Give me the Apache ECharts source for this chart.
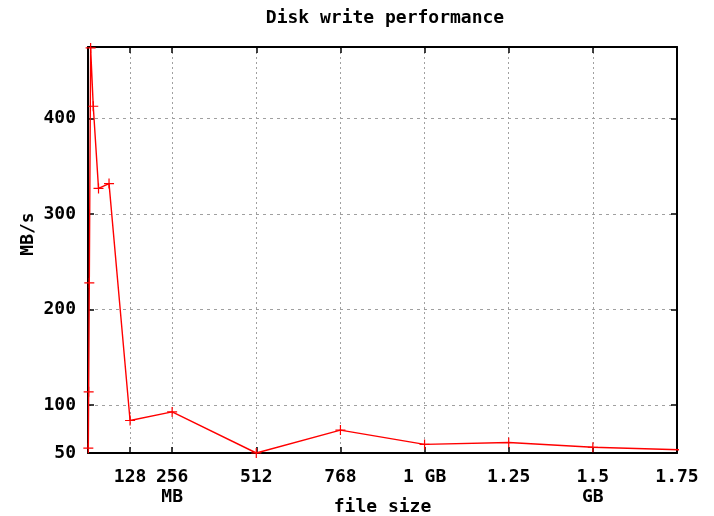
<!DOCTYPE html>
<html>
<head>
<meta charset="utf-8">
<script src="https://cdn.jsdelivr.net/npm/echarts@6/dist/echarts.min.js"></script>
<style>html,body{margin:0;padding:0;background:#fff}#c{width:714px;height:516px}</style>
</head>
<body>
<div id="c"></div>
<script>
// Data
const fileSizesMB = [1, 2, 4, 8, 16, 32, 64, 128, 256, 512, 768, 1024, 1280, 1536, 2048];
const writeMBps   = [55, 114, 228, 474, 413, 327, 332, 84, 93, 50, 74, 59, 61, 56, 51];
const xTickValues = [128, 256, 512, 768, 1024, 1280, 1536, 1792];
const xTickLabels = ['128', '256\nMB', '512', '768', '1 GB', '1.25', '1.5\nGB', '1.75'];
const yTickValues = [50, 100, 200, 300, 400];
const yTickLabels = ['50', '100', '200', '300', '400'];

const FONT = 'DejaVu Sans Mono';
const txt = { fontFamily: FONT, fontWeight: 'bold', fontSize: 18, color: '#000' };
const xLabelMap = {}; xTickValues.forEach((v, i) => xLabelMap[v] = xTickLabels[i]);
const yLabelMap = {}; yTickValues.forEach((v, i) => yLabelMap[v] = yTickLabels[i]);

const axisLine = { show: true, onZero: false, lineStyle: { color: '#000', width: 2 } };
const tickStyle = { color: '#000', width: 1.5 };
const crossSymbol = 'path://M0,4.4h10v1.2h-10z M4.4,0h1.2v10h-1.2z';

const chart = echarts.init(document.getElementById('c'), null, { renderer: 'canvas' });
chart.setOption({
  animation: false,
  backgroundColor: '#fff',
  title: {
    text: 'Disk write performance',
    left: 380, top: 4, textAlign: 'center',
    textStyle: Object.assign({}, txt)
  },
  grid: { left: 88, right: 37, top: 47, bottom: 63, containLabel: false, outerBoundsMode: 'none' },
  xAxis: [
    {
      type: 'value', min: 0, max: 1792, position: 'bottom',
      name: 'file size', nameLocation: 'middle', nameGap: 45, nameMoveOverlap: false,
      nameTextStyle: Object.assign({}, txt),
      axisLine: axisLine,
      axisTick: { show: true, inside: true, length: 6, customValues: xTickValues, lineStyle: tickStyle },
      axisLabel: Object.assign({ customValues: xTickValues, margin: 14, lineHeight: 20,
        formatter: v => xLabelMap[v] !== undefined ? xLabelMap[v] : '' }, txt),
      splitLine: { show: true, lineStyle: { color: '#a0a0a0', width: 1, type: [2, 3] } }
    },
    {
      type: 'value', min: 0, max: 1792, position: 'top',
      axisLine: axisLine,
      axisTick: { show: true, inside: true, length: 6, customValues: xTickValues, lineStyle: tickStyle },
      axisLabel: { show: false },
      splitLine: { show: false }
    }
  ],
  yAxis: [
    {
      type: 'value', min: 50, max: 475, position: 'left',
      name: 'MB/s', nameLocation: 'middle', nameGap: 51, nameMoveOverlap: false,
      nameTextStyle: Object.assign({ padding: [0, 0, 0, 32] }, txt),
      axisLine: axisLine,
      axisTick: { show: true, inside: true, length: 6, customValues: yTickValues, lineStyle: tickStyle },
      axisLabel: Object.assign({ customValues: yTickValues, margin: 12,
        formatter: v => yLabelMap[v] !== undefined ? yLabelMap[v] : '' }, txt),
      splitLine: { show: true, lineStyle: { color: '#a0a0a0', width: 1, type: [3, 4] } }
    },
    {
      type: 'value', min: 50, max: 475, position: 'right',
      axisLine: axisLine,
      axisTick: { show: true, inside: true, length: 6, customValues: yTickValues, lineStyle: tickStyle },
      axisLabel: { show: false },
      splitLine: { show: false }
    }
  ],
  series: [{
    type: 'line',
    xAxisIndex: 0, yAxisIndex: 0,
    data: fileSizesMB.map((x, i) => [x, writeMBps[i]]),
    symbol: crossSymbol, symbolSize: 10, showAllSymbol: true,
    clip: true,
    lineStyle: { color: '#ff0000', width: 1.4 },
    itemStyle: { color: '#ff0000' }
  }]
});
</script>
</body>
</html>
